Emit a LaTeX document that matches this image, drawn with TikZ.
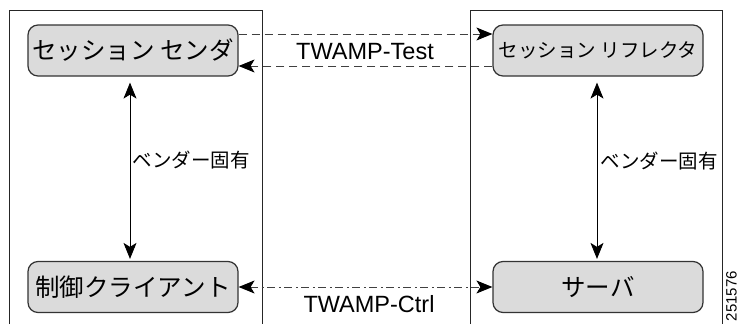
\documentclass[tikz,border=0pt]{standalone}
\usepackage{fontspec}
\setmainfont{Liberation Sans}
\newfontfamily\cjk{Noto Sans CJK JP}
\usetikzlibrary{arrows.meta}

\tikzset{
  zonebox/.style={draw=black!85, line width=0.9pt},
  procbox/.style={draw=black!80, line width=1.2pt, fill=black!14, rounded corners=10pt,
    minimum width=210pt, minimum height=51pt, inner sep=0pt, font=\cjk\fontsize{24.5}{28}\selectfont},
  headtip/.tip={Stealth[length=16pt,width=13pt,inset=4pt,black]},
  onetip/.style={-headtip},
  twotips/.style={headtip-headtip},
  flowline/.style={line width=1pt, draw=black!75},
  testline/.style={flowline, dash pattern=on 8pt off 5pt},
  ctrlline/.style={flowline, dash pattern=on 8pt off 3.5pt on 2pt off 3.5pt},
  vendorline/.style={flowline, draw=black, line width=0.9pt},
  vlabel/.style={font=\cjk\fontsize{19.5}{22}\selectfont, inner sep=1pt},
  plabel/.style={font=\fontsize{23.5}{26}\selectfont, inner sep=1pt},
}

\begin{document}
\begin{tikzpicture}[x=1pt, y=-1pt]
  \useasboundingbox (0,0) rectangle (739,324);

  % the two zones, open at the bottom
  \draw[zonebox] (9,324) -- (9,10) -- (262,10) -- (262,324);
  \draw[zonebox] (470,324) -- (470,10) -- (722,10) -- (722,324);

  % sender / client side
  \node[procbox] (snd) at (133,50.5) {セッション センダ};
  \node[procbox] (cli) at (133,287) {制御クライアント};

  % reflector / server side
  \node[procbox, font=\cjk\fontsize{19.5}{22}\selectfont] (refl) at (598,50.5) {セッション リフレクタ};
  \node[procbox] (srv) at (598,287) {サーバ};

  % vendor specific links
  \draw[vendorline, twotips, shorten <=6pt, shorten >=2pt] ([xshift=-3pt]snd.south) -- ([xshift=-3pt]cli.north);
  \draw[vendorline, twotips, shorten <=6pt, shorten >=2pt] ([xshift=-1pt]refl.south) -- ([xshift=-1pt]srv.north);
  \node[vlabel] (vl) at (191,160) {ベンダー固有};
  \node[vlabel] (vr) at (659,161) {ベンダー固有};

  % TWAMP-Test
  \draw[testline, onetip] ([yshift=16.5pt]snd.east) -- ([yshift=16.5pt]refl.west);
  \draw[testline, onetip] ([yshift=-15.5pt]refl.west) -- ([yshift=-15.5pt]snd.east);
  \node[plabel] (tl) at (365,52) {TWAMP-Test};

  % TWAMP-Ctrl
  \draw[ctrlline, twotips] (cli.east) -- (srv.west);
  \node[plabel] (cl) at (369,304) {TWAMP-Ctrl};

  % figure number
  \node[rotate=90, font=\fontsize{15}{16}\selectfont, inner sep=0pt] (fig) at (731.5,296) {251576};
\end{tikzpicture}
\end{document}
